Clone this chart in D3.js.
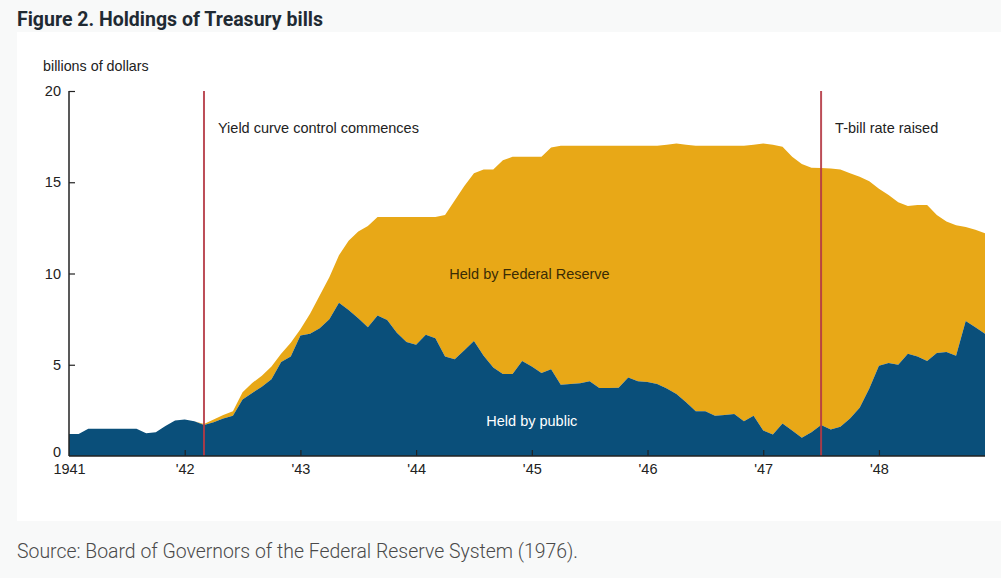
<!DOCTYPE html>
<html>
<head>
<meta charset="utf-8">
<script src="https://cdn.jsdelivr.net/npm/d3@7/dist/d3.min.js"></script>
<style>
  html, body { margin: 0; padding: 0; background: #f8f9f9; }
  svg { display: block; }
</style>
</head>
<body>
<svg id="chart" width="1001" height="578"></svg>
<script>
// ---- Data (monthly, Jan 1941 – Dec 1948), billions of dollars ----
const startYear = 1941;
const heldByPublic = [
  1.2, 1.2, 1.5, 1.5, 1.5, 1.5, 1.5, 1.5, 1.25, 1.3, 1.65, 1.95,
  2.0, 1.9, 1.7, 1.85, 2.05, 2.2, 3.1, 3.45, 3.8, 4.2, 5.15, 5.45,
  6.6, 6.7, 7.0, 7.5, 8.4, 8.0, 7.55, 7.05, 7.7, 7.45, 6.75, 6.25,
  6.1, 6.65, 6.45, 5.45, 5.3, 5.8, 6.3, 5.5, 4.85, 4.5, 4.5, 5.2,
  4.9, 4.55, 4.75, 3.9, 3.95, 3.98, 4.1, 3.72, 3.72, 3.74, 4.3, 4.1,
  4.05, 3.95, 3.7, 3.4, 2.95, 2.45, 2.45, 2.2, 2.25, 2.3, 1.9, 2.2,
  1.4, 1.18, 1.78, 1.4, 1.0, 1.3, 1.7, 1.45, 1.6, 2.05, 2.65, 3.7,
  4.95, 5.1, 5.0, 5.6, 5.45, 5.2, 5.65, 5.7, 5.5, 7.4, 7.05, 6.7
];
const heldByFed = [
  0, 0, 0, 0, 0, 0, 0, 0, 0, 0, 0, 0,
  0, 0, 0.05, 0.15, 0.2, 0.25, 0.4, 0.55, 0.6, 0.7, 0.45, 0.75,
  0.35, 1.1, 1.8, 2.3, 2.6, 3.8, 4.75, 5.55, 5.4, 5.65, 6.35, 6.85,
  7.0, 6.45, 6.65, 7.75, 8.7, 9.0, 9.2, 10.2, 10.85, 11.7, 11.9, 11.2,
  11.5, 11.85, 12.15, 13.1, 13.05, 13.02, 12.9, 13.28, 13.28, 13.26, 12.7, 12.9,
  12.95, 13.05, 13.35, 13.72, 14.1, 14.55, 14.55, 14.8, 14.75, 14.7, 15.1, 14.85,
  15.72, 15.87, 15.17, 15.0, 15.0, 14.5, 14.08, 14.3, 14.1, 13.45, 12.65, 11.35,
  9.7, 9.2, 8.9, 8.1, 8.3, 8.55, 7.55, 7.15, 7.15, 5.15, 5.35, 5.5
];
const yTicks = [0, 5, 10, 15, 20];
const xTickYears = [1941, 1942, 1943, 1944, 1945, 1946, 1947, 1948];
const xTickLabels = ["1941", "'42", "'43", "'44", "'45", "'46", "'47", "'48"];
const events = [
  { date: 1942 + 2/12, label: "Yield curve control commences" },
  { date: 1947 + 6/12, label: "T-bill rate raised" }
];
const seriesLabels = ["Held by public", "Held by Federal Reserve"];
const title = "Figure 2. Holdings of Treasury bills";
const source = "Source: Board of Governors of the Federal Reserve System (1976).";
const yUnit = "billions of dollars";

// ---- Layout ----
const svg = d3.select("#chart");
const W = 1001, H = 578;
const plot = { left: 69, right: 985, top: 91, bottom: 456 };
const colPublic = "#0a4f7a", colFed = "#e8a817", colEvent = "#b53a45";
const fs = 14.5;

// panel
svg.append("rect").attr("x", 17).attr("y", 32).attr("width", W - 17).attr("height", 489).attr("fill", "#ffffff");

// title
svg.append("text").attr("x", 17).attr("y", 26)
  .attr("font-family", "Roboto, 'Liberation Sans', sans-serif")
  .attr("font-weight", 700).attr("font-size", 21).attr("fill", "#1f2a33")
  .attr("textLength", 306).attr("lengthAdjust", "spacingAndGlyphs")
  .text(title);

// source
svg.append("text").attr("x", 17).attr("y", 558)
  .attr("font-family", "Roboto, 'Liberation Sans', sans-serif")
  .attr("font-weight", 300).attr("font-size", 20).attr("fill", "#4a4a4a")
  .attr("textLength", 561).attr("lengthAdjust", "spacingAndGlyphs")
  .text(source);

// scales
const dates = heldByPublic.map((_, i) => startYear + i / 12);
const x = d3.scaleLinear().domain([startYear, startYear + 95 / 12]).range([plot.left, plot.right]);
const y = d3.scaleLinear().domain([0, 20]).range([plot.bottom, plot.top]);

const rows = dates.map((d, i) => ({ date: d, public: heldByPublic[i], fed: heldByFed[i] }));
const stack = d3.stack().keys(["public", "fed"])(rows);

const area = d3.area()
  .x(d => x(d.data.date))
  .y0(d => y(d[0]))
  .y1(d => y(d[1]));

const g = svg.append("g");
g.append("path").datum(stack[1]).attr("d", area).attr("fill", colFed);
g.append("path").datum(stack[0]).attr("d", area).attr("fill", colPublic);

const font = "'Liberation Sans', Arial, Helvetica, sans-serif";

// event lines
events.forEach(e => {
  g.append("line").attr("x1", x(e.date)).attr("x2", x(e.date))
    .attr("y1", y(20)).attr("y2", y(0))
    .attr("stroke", colEvent).attr("stroke-width", 2).attr("stroke-opacity", 0.9);
  g.append("text").attr("x", x(e.date) + 14).attr("y", 133)
    .attr("font-family", font).attr("font-size", fs).attr("fill", "#222")
    .text(e.label);
});

// series labels
g.append("text").attr("x", x(1945 - 0.02)).attr("y", 279).attr("text-anchor", "middle")
  .attr("font-family", font).attr("font-size", fs).attr("fill", "#3a2c05").text(seriesLabels[1]);
g.append("text").attr("x", x(1945)).attr("y", 426).attr("text-anchor", "middle")
  .attr("font-family", font).attr("font-size", fs).attr("fill", "#ffffff").text(seriesLabels[0]);

// y axis
const yAxis = d3.axisRight(y).tickValues(yTicks).tickSize(6).tickFormat(d3.format("d"));
const ya = svg.append("g").attr("transform", `translate(${plot.left},0)`).call(yAxis);
ya.select(".domain").attr("stroke", "#222").attr("stroke-width", 1.5).attr("d", `M0,${y(20)}H0V${y(0)}`);
ya.selectAll(".tick line").attr("stroke", "#222").attr("stroke-width", 1.2);
ya.selectAll(".tick").filter(d => d === 0).select("line").remove();
ya.selectAll(".tick text").attr("x", -8).attr("text-anchor", "end")
  .attr("font-family", font).attr("font-size", fs).attr("fill", "#222");
ya.selectAll(".tick").filter(d => d === 0).select("text").attr("y", -4);

// x axis
const xAxis = d3.axisTop(x).tickValues(xTickYears).tickSize(6)
  .tickFormat((d, i) => xTickLabels[i]);
const xa = svg.append("g").attr("transform", `translate(0,${plot.bottom})`).call(xAxis);
xa.select(".domain").attr("stroke", "#222").attr("stroke-width", 1.5).attr("d", `M${plot.left},0H${plot.right}`);
xa.selectAll(".tick line").attr("stroke", "#222").attr("stroke-width", 1.2);
xa.selectAll(".tick").filter(d => d === 1941).select("line").remove();
xa.selectAll(".tick text").attr("y", 18).attr("dy", 0)
  .attr("font-family", font).attr("font-size", fs).attr("fill", "#222");

// unit label
svg.append("text").attr("x", 43).attr("y", 71)
  .attr("font-family", font).attr("font-size", 14.3).attr("fill", "#222").text(yUnit);
</script>
</body>
</html>
